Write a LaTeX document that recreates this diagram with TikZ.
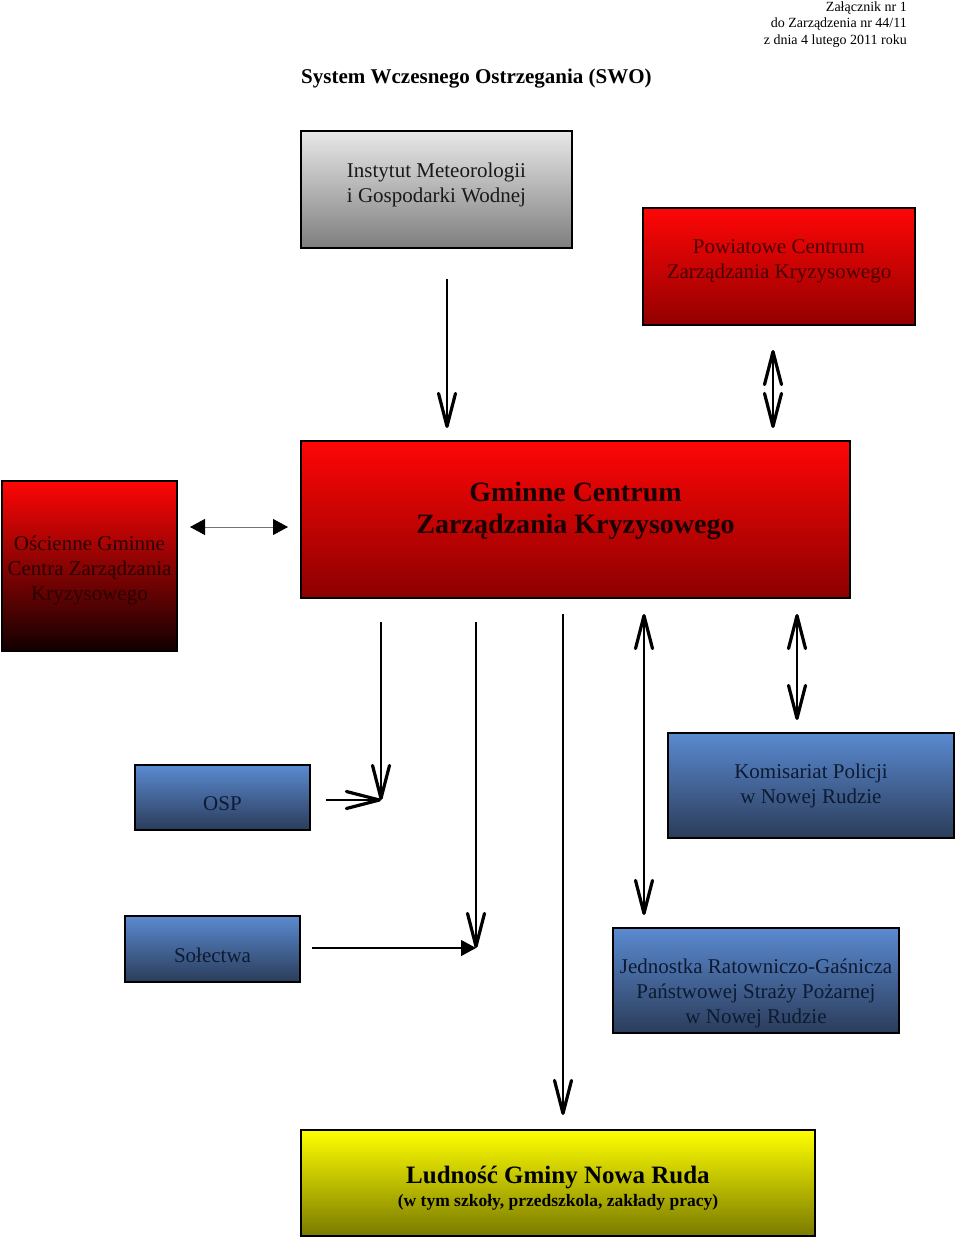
\documentclass[tikz,border=0pt]{standalone}
\usepackage{fontspec}
\setmainfont{Liberation Serif}
\usetikzlibrary{arrows.meta,calc}
\definecolor{graytop}{HTML}{E8E8E8}
\definecolor{graybot}{HTML}{7E7E7E}
\definecolor{redtop}{HTML}{FF0606}
\definecolor{reddark}{HTML}{930000}
\definecolor{oscbot}{HTML}{120000}
\definecolor{bluetop}{HTML}{5A8AD0}
\definecolor{bluebot}{HTML}{2B3C5A}
\definecolor{yeltop}{HTML}{FFFF00}
\definecolor{yelbot}{HTML}{7A7A00}
\definecolor{redtxt}{HTML}{4A0000}
\definecolor{osctxt}{HTML}{2A0000}
\definecolor{gmtxt}{HTML}{1A0000}
\definecolor{bluetxt}{HTML}{0D1A33}
\begin{document}
\begin{tikzpicture}[x=1pt,y=-1pt,
  box/.style={draw=black, line width=1.5pt, inner sep=0pt, outer sep=0pt, shading=axis},
  graybox/.style={box, top color=graytop, bottom color=graybot},
  redbox/.style={box, top color=redtop, bottom color=reddark},
  oscbox/.style={box, top color=redtop, bottom color=oscbot},
  bluebox/.style={box, top color=bluetop, bottom color=bluebot},
  yelbox/.style={box, top color=yeltop, bottom color=yelbot},
  txt/.style={align=center, inner sep=0pt, font=\fontsize{21}{25}\selectfont},
  shaft/.style={draw=black, line width=1.2pt},
  vbarb/.tip={Straight Barb[length=33pt, width=17pt, line width=3.2pt, round]},
  tri/.tip={Triangle[length=15pt, width=16pt, color=black]},
  hdr/.style={inner sep=0pt, font=\fontsize{14}{16.5}\selectfont}
]
\useasboundingbox (0,0) rectangle (960,1238);

% header
\node[hdr, anchor=north east, align=right] (head) at (907,1.5)
  {Załącznik nr 1\\do Zarządzenia nr 44/11\\z dnia 4 lutego 2011 roku};
\node[inner sep=0pt, anchor=base west, font=\fontsize{21}{25}\selectfont\bfseries] (title) at (301,84)
  {System Wczesnego Ostrzegania (SWO)};

% boxes
\node[graybox, minimum width=271, minimum height=117,
  label={[txt, text=black!90, yshift=5pt]center:Instytut Meteorologii\\i Gospodarki Wodnej}] (imgw) at (436.5,189.5) {};
\node[redbox, minimum width=272, minimum height=117,
  label={[txt, text=redtxt, yshift=5pt]center:Powiatowe Centrum\\Zarządzania Kryzysowego}] (pcz) at (779,266.5) {};
\node[oscbox, minimum width=175, minimum height=170,
  label={[txt, text=osctxt, yshift=-4.5pt]center:Ościenne Gminne\\Centra Zarządzania\\Kryzysowego}] (osc) at (89.5,566) {};
\node[redbox, minimum width=549, minimum height=157, bottom color=reddark!95!black,
  label={[txt, text=gmtxt, yshift=8.5pt, font=\fontsize{28}{32}\selectfont\bfseries]center:Gminne Centrum\\Zarządzania Kryzysowego}] (gm) at (575.5,519.5) {};
\node[bluebox, minimum width=175, minimum height=65,
  label={[txt, text=bluetxt, yshift=-6.5pt]center:OSP}] (osp) at (222.5,797.5) {};
\node[bluebox, minimum width=286, minimum height=105,
  label={[txt, text=bluetxt, yshift=0pt]center:Komisariat Policji\\w Nowej Rudzie}] (kp) at (811,785.5) {};
\node[bluebox, minimum width=175, minimum height=66,
  label={[txt, text=bluetxt, yshift=-6pt]center:Sołectwa}] (sol) at (212.5,949) {};
\node[bluebox, minimum width=286, minimum height=105,
  label={[txt, text=bluetxt, yshift=-12.5pt]center:Jednostka Ratowniczo-Gaśnicza\\Państwowej Straży Pożarnej\\w Nowej Rudzie}] (jrg) at (756,980.5) {};
\node[yelbox, minimum width=514, minimum height=106,
  label={[txt, text=black, yshift=-5pt, font=\fontsize{25}{23}\selectfont\bfseries]center:{Ludność Gminy Nowa Ruda\\{\fontsize{17.5}{23}\selectfont (w tym szkoły, przedszkola, zakłady pracy)}}}] (lud) at (558,1183) {};

% helper coordinates
\coordinate (c1) at (381,800);
\coordinate (c2) at (476,948);
\coordinate (x3) at ($(gm.south)+(-12.5,0)$);
\coordinate (x4) at ($(gm.south)+(68.5,0)$);

% connectors
\draw[shaft, -vbarb] ($(imgw.south)+(10.5,31)$) -- ($(imgw.south |- gm.north)+(10.5,-13)$);
\draw[shaft, vbarb-vbarb] ($(pcz.south)+(-6,25)$) -- ($(pcz.south |- gm.north)+(-6,-13)$);
\draw[draw=black!55, line width=0.8pt, tri-tri] ($(osc.east)+(13,-39)$) -- ($(osc.east -| gm.west)+(-13,-39)$);

\draw[shaft, -vbarb] ($(gm.south -| c1)+(0,24)$) -- (c1);
\draw[shaft, -vbarb] ($(osp.east |- c1)+(16,0)$) -- (c1);
\draw[shaft, -vbarb] ($(gm.south -| c2)+(0,24)$) -- (c2);
\draw[shaft, -tri] ($(sol.east |- c2)+(12,0)$) -- (c2);
\draw[shaft, -vbarb] ($(x3)+(0,16)$) -- ($(lud.north -| x3)+(0,-15)$);
\draw[shaft, vbarb-vbarb] ($(x4)+(0,16)$) -- ($(jrg.north -| x4)+(0,-13)$);
\draw[shaft, vbarb-vbarb] ($(gm.south -| kp.north)+(-14,16)$) -- ($(kp.north)+(-14,-13)$);
\end{tikzpicture}
\end{document}
